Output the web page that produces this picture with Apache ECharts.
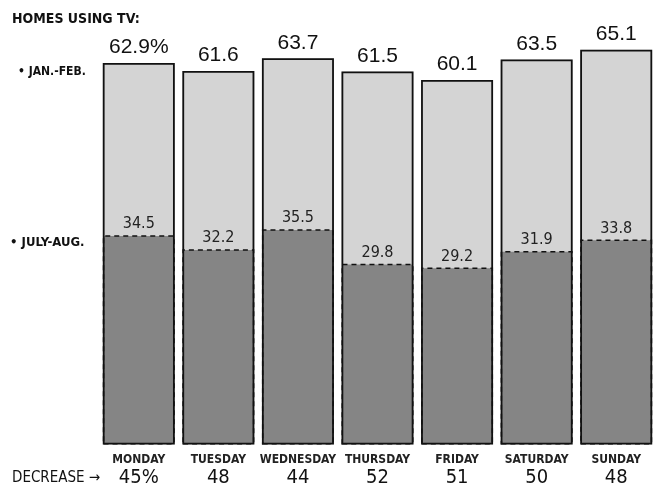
<!DOCTYPE html>
<html>
<head>
<meta charset="utf-8">
<script src="https://cdn.jsdelivr.net/npm/echarts@6/dist/echarts.min.js"></script>
<style>html,body{margin:0;padding:0;background:#fff}#c{width:659px;height:488px}</style>
</head>
<body>
<div id="c"></div>
<script>
// homes using TV, winter vs summer, by weekday
const days = ['MONDAY', 'TUESDAY', 'WEDNESDAY', 'THURSDAY', 'FRIDAY', 'SATURDAY', 'SUNDAY'];
const janFeb = [62.9, 61.6, 63.7, 61.5, 60.1, 63.5, 65.1];
const julyAug = [34.5, 32.2, 35.5, 29.8, 29.2, 31.9, 33.8];
const decrease = [45, 48, 44, 52, 51, 50, 48];

const chart = echarts.init(document.getElementById('c'), null, { renderer: 'canvas' });
const FONT = '"DejaVu Sans Condensed", "DejaVu Sans", sans-serif';

chart.setOption({
  backgroundColor: '#fff',
  animation: false,
  grid: { left: 99, right: 3, top: 20, bottom: 34 },
  xAxis: {
    type: 'category', data: days,
    axisLine: { show: false }, axisTick: { show: false },
    axisLabel: {
      margin: 8, interval: 0,
      formatter: (v, i) => `{d|${v}}\n{n|${decrease[i]}${i === 0 ? '%' : ''}}`,
      rich: {
        d: { fontFamily: FONT, fontWeight: 'bold', fontSize: 12, color: '#222', lineHeight: 15 },
        n: { fontFamily: FONT, fontSize: 20, color: '#111', lineHeight: 21 },
      },
    },
  },
  yAxis: { type: 'value', min: 0, max: 70, show: false, splitLine: { show: false } },
  series: [
    {
      type: 'bar', data: janFeb, barWidth: 72, barGap: '-100%',
      itemStyle: { color: '#d4d4d4', borderWidth: 0 },
      label: {
        show: true, position: 'top', distance: 5,
        formatter: p => p.dataIndex === 0 ? p.value + '%' : p.value,
        fontFamily: '"Liberation Sans", Arial, sans-serif', fontSize: 21, color: '#111',
      },
      z: 2,
    },
    {
      type: 'bar', data: julyAug, barWidth: 72, barGap: '-100%',
      itemStyle: { color: '#858585', borderColor: '#111', borderWidth: 1.5, borderType: [5, 4] },
      label: {
        show: true, position: 'top', distance: 3,
        fontFamily: FONT, fontSize: 16, color: '#222',
      },
      z: 3,
    },
    {
      // solid outline over both parts
      type: 'bar', data: janFeb, barWidth: 72, barGap: '-100%', silent: true,
      itemStyle: { color: 'rgba(0,0,0,0)', borderColor: '#111', borderWidth: 1.8 },
      z: 4,
    },
  ],
  graphic: [
    { type: 'text', left: 12, top: 12, style: { text: 'HOMES USING TV:', font: 'bold 14px ' + FONT, fill: '#111' } },
    { type: 'text', left: 18, top: 66, style: { text: '• JAN.-FEB.', font: 'bold 12px ' + FONT, fill: '#111' } },
    { type: 'text', left: 10, top: 236, style: { text: '• JULY-AUG.', font: 'bold 13px ' + FONT, fill: '#111' } },
    { type: 'text', left: 12, top: 471, style: { text: 'DECREASE →', font: '15px ' + FONT, fill: '#111' } },
  ],
});
</script>
</body>
</html>
